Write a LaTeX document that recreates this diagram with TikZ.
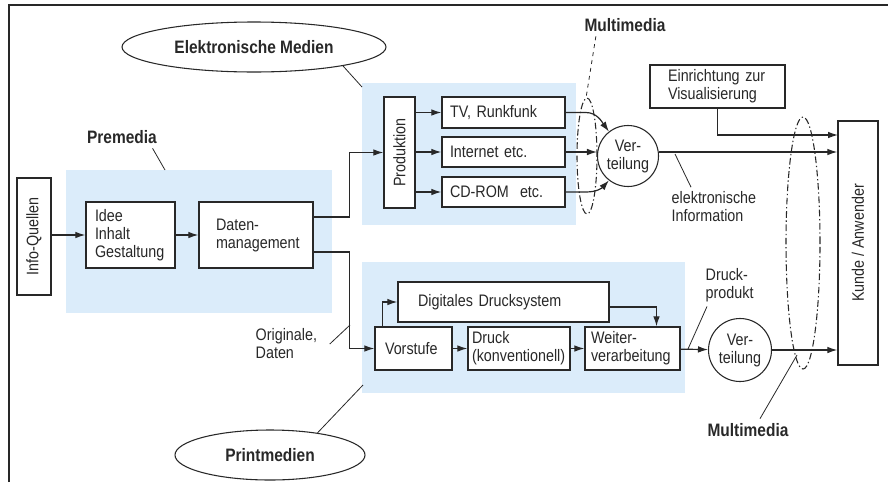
\documentclass[tikz,border=0pt]{standalone}
\usepackage{fontspec}
\setmainfont{Liberation Sans}[FakeStretch=0.86]
\usetikzlibrary{arrows.meta,shapes.geometric}

\newlength\px
\setlength\px{0.75pt}
\definecolor{paleblue}{RGB}{219,236,250}
\definecolor{ink}{RGB}{40,40,40}

\tikzset{
  box/.style={draw=ink, line width=1.1pt, fill=white, align=left, inner ysep=0pt},
  rund/.style={draw=ink, circle, line width=0.8pt, fill=white, inner sep=0pt, align=center},
  blase/.style={draw=ink, ellipse, line width=0.8pt, inner sep=0pt,
    font=\fontsize{13.5}{15}\selectfont\bfseries},
  lbl/.style={font=\fontsize{13.5}{15}\selectfont\bfseries},
  arr/.style={draw=ink, line width=0.9pt, -{Latex[length=7.5pt,width=5pt]}},
  zeiger/.style={draw=ink, line width=0.6pt},
  mmring/.style={draw=ink, line width=0.8pt, dash pattern=on 5pt off 2pt on 1pt off 2pt}
}

\begin{document}
\begin{tikzpicture}[x=0.75pt,y=-0.75pt, font=\fontsize{12.5}{13.5}\selectfont, text=ink]
\useasboundingbox (0,0) rectangle (888,482);
% rahmen
\draw[ink, line width=1.5pt] (9,482) -- (9,5) -- (888,5);

% hinterlegte bereiche
\fill[paleblue] (66,170) rectangle (332,313);
\fill[paleblue] (362,83) rectangle (576,225);
\fill[paleblue] (362,262) rectangle (685,393);

% quellen, premedia
\node[box, inner sep=0pt, minimum width=34\px, minimum height=117\px] (info) at (34,236.5) {};
\node[rotate=90] (infotxt) at (info) {Info-Quellen};
\node[box, inner xsep=9\px, text width=71\px, minimum height=66\px] (idee) at (130.5,235) {Idee\\Inhalt\\Gestaltung};
\node[box, inner xsep=17\px, text width=80\px, minimum height=66\px] (daten) at (256,235) {Daten-\\management};

% elektronische medien
\node[box, inner sep=0pt, minimum width=31\px, minimum height=111\px] (prod) at (399.5,152.5) {};
\node[rotate=90] (prodtxt) at (prod) {Produktion};
\node[box, inner xsep=8\px, text width=107\px, minimum height=31\px] (tv) at (503.5,112.5) {TV, Runkfunk};
\node[box, inner xsep=8\px, text width=107\px, minimum height=30\px] (inet) at (503.5,152) {Internet etc.};
\node[box, inner xsep=8\px, text width=107\px, minimum height=30\px] (cd) at (503.5,192) {CD-ROM~ etc.};
\node[rund, minimum size=61\px] (vert1) at (628,156) {Ver-\\teilung};
\node[box, inner xsep=18\px, text width=99\px, minimum height=43\px] (einr) at (717.5,86.5) {Einrichtung zur\\Visualisierung};

% printmedien
\node[box, inner xsep=20\px, text width=171\px, minimum height=40\px] (digi) at (503.5,302) {Digitales Drucksystem};
\node[box, inner xsep=10\px, text width=57\px, minimum height=43\px] (vorstufe) at (413.5,348.5) {Vorstufe};
\node[box, inner xsep=4\px, text width=94\px, minimum height=43\px] (druck) at (519,348.5) {Druck\\(konventionell)};
\node[box, inner xsep=6\px, text width=83\px, minimum height=43\px] (weiter) at (632.5,348.5) {Weiter-\\verarbeitung};
\node[rund, minimum size=63\px] (vert2) at (740,350) {Ver-\\teilung};

% kunde
\node[box, inner sep=0pt, minimum width=40\px, minimum height=244\px] (kunde) at (858,243) {};
\node[rotate=90] (kundetxt) at (kunde) {Kunde / Anwender};

% verbindungen
\draw[arr] (info.east |- idee.west) -- (idee.west);
\draw[arr] (idee) -- (daten);
\draw[arr] ([yshift=18\px]daten.east) -- ++(36,0) |- (prod.west);
\draw[arr] ([yshift=-17\px]daten.east) -- ++(36,0) |- (vorstufe.west);
\draw[arr] (prod.east |- tv.west) -- (tv.west);
\draw[arr] (prod.east |- inet.west) -- (inet.west);
\draw[arr] (prod.east |- cd.west) -- (cd.west);
\draw[arr] (tv.east) -- ++(20,0) .. controls (597,112.5) and (602,122) .. (vert1.128);
\draw[arr] (inet.east) -- (inet.east -| vert1.west);
\draw[arr] (cd.east) -- ++(20,0) .. controls (597,192) and (602,188) .. (vert1.232);
\draw[arr] (vert1.east |- inet.east) -- (kunde.west |- inet.east);
\coordinate (kein) at (838,135);
\draw[arr] (einr.south) |- (kein);
\draw[arr] ([xshift=8\px]vorstufe.north west) |- (digi.west);
\draw[arr] ([yshift=-5\px]digi.east) -| ([xshift=24\px]weiter.north);
\draw[arr] (vorstufe) -- (druck);
\draw[arr] (druck) -- (weiter);
\draw[arr] (weiter) -- (vert2);
\draw[arr] (vert2.east) -- (kunde.west |- vert2.east);

% multimedia-ringe
\draw[mmring] (587,156) ellipse [x radius=10\px, y radius=58\px];
\draw[mmring] (803,243) ellipse [x radius=17\px, y radius=126\px];

% beschriftungen
\node[blase, minimum width=264\px, minimum height=50\px] (elmed) at (254,47) {Elektronische Medien};
\node[blase, minimum width=190\px, minimum height=50\px] (printmed) at (270,455) {Printmedien};
\node[lbl] (premedia) at (122,137) {Premedia};
\node[lbl] (mm1) at (625,25) {Multimedia};
\node[lbl] (mm2) at (748,430) {Multimedia};
\node[align=left, anchor=west] (einfo) at (667,207) {elektronische\\Information};
\node[align=left, anchor=west] (orig) at (251,344) {Originale,\\Daten};
\node[align=left, anchor=west] (druckp) at (701,285) {Druck-\\produkt};

% zeigerlinien
\coordinate (elmedtip) at (362,87);
\coordinate (premtip) at (165,170);
\coordinate (printtip) at (363,385);
\coordinate (mm1tip) at (586,98);
\coordinate (mm2tip) at (797,355);
\coordinate (einfotip) at (675,154);
\coordinate (origtip) at (350,325);
\coordinate (druckptip) at (688,349);
\draw[zeiger] (elmed.-12) -- (elmedtip);
\draw[zeiger] ([xshift=-9\px]premedia.south east) -- (premtip);
\draw[zeiger] (printmed.25) -- (printtip);
\draw[zeiger, dashed] ([xshift=16\px]mm1.south west) -- (mm1tip);
\draw[zeiger] ([xshift=12\px]mm2.north) -- (mm2tip);
\draw[zeiger] ([xshift=24\px]einfo.north west) -- (einfotip);
\draw[zeiger] ([xshift=8\px]orig.east) -- (origtip);
\draw[zeiger] ([xshift=6\px]druckp.south west) -- (druckptip);
\end{tikzpicture}
\end{document}
